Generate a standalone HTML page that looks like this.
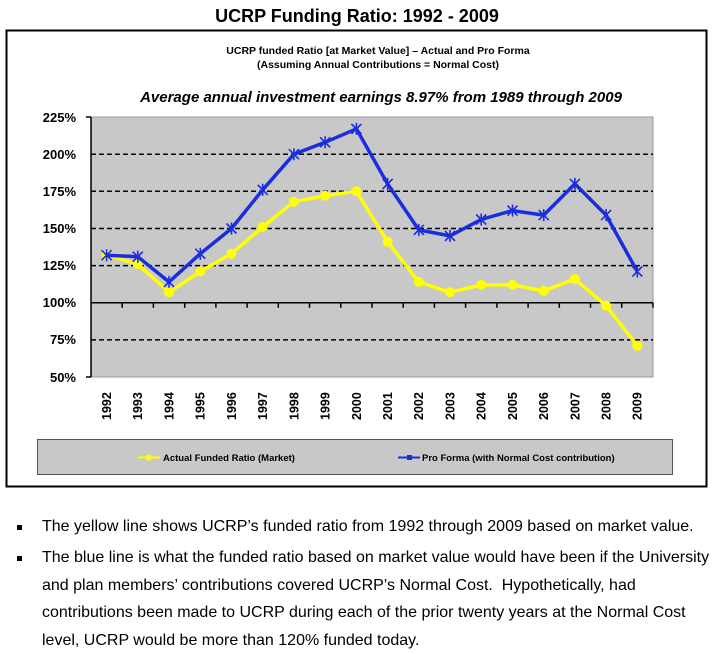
<!DOCTYPE html>
<html><head><meta charset="utf-8"><style>
body{margin:0;background:#fff;width:714px;height:654px;overflow:hidden;font-family:"Liberation Sans",sans-serif}
.b{position:absolute;left:42px;font-size:16px;color:#000;line-height:27.5px;white-space:nowrap}
.sq{position:absolute;left:17px;width:5px;height:5px;background:#000}
</style></head><body>
<svg width="714" height="490" style="position:absolute;left:0;top:0" font-family="Liberation Sans, sans-serif">
<text x="357" y="22" text-anchor="middle" font-size="18" font-weight="bold" font-family="Liberation Sans Narrow, Liberation Sans, sans-serif">UCRP Funding Ratio: 1992 - 2009</text>
<rect x="6.5" y="30.5" width="700" height="456" fill="#fff" stroke="#000" stroke-width="2"/>
<text x="378" y="54" text-anchor="middle" font-size="10.5" font-weight="bold">UCRP funded Ratio [at Market Value] – Actual and Pro Forma</text>
<text x="378" y="68" text-anchor="middle" font-size="10.5" font-weight="bold">(Assuming Annual Contributions = Normal Cost)</text>
<text x="381" y="102" text-anchor="middle" font-size="15" font-weight="bold" font-style="italic">Average annual investment earnings 8.97% from 1989 through 2009</text>
<rect x="91" y="117" width="562" height="260" fill="#c8c8c8" stroke="#999" stroke-width="1"/>
<g stroke="#000" stroke-width="1.5" stroke-dasharray="5,3">
<line x1="91" x2="653" y1="154.2" y2="154.2"/><line x1="91" x2="653" y1="191.3" y2="191.3"/>
<line x1="91" x2="653" y1="228.5" y2="228.5"/><line x1="91" x2="653" y1="265.6" y2="265.6"/>
<line x1="91" x2="653" y1="339.9" y2="339.9"/></g>
<line x1="91" x2="653" y1="302.8" y2="302.8" stroke="#000" stroke-width="1.5"/>
<g stroke="#000" stroke-width="1.5">
<line x1="91" x2="91" y1="117" y2="377"/>
<line x1="86" x2="91" y1="117" y2="117"/><line x1="86" x2="91" y1="377" y2="377"/>
<path d="M122.2 302.8v5M153.4 302.8v5M184.7 302.8v5M215.9 302.8v5M247.1 302.8v5M278.3 302.8v5M309.5 302.8v5M340.8 302.8v5M372 302.8v5M403.2 302.8v5M434.4 302.8v5M465.6 302.8v5M496.9 302.8v5M528.1 302.8v5M559.3 302.8v5M590.5 302.8v5M621.7 302.8v5M653 302.8v5"/>
</g>
<g font-size="13" font-weight="bold" text-anchor="end">
<text x="76" y="122">225%</text><text x="76" y="159">200%</text><text x="76" y="196">175%</text>
<text x="76" y="233">150%</text><text x="76" y="270">125%</text><text x="76" y="307">100%</text>
<text x="76" y="344">75%</text><text x="76" y="382">50%</text></g>
<polyline fill="none" stroke="#ffff00" stroke-width="3.5" points="106.6,255.2 137.8,264.1 169,292.3 200.3,271.5 231.5,253.7 262.7,227 293.9,201.7 325.1,195.8 356.4,191.3 387.6,241.8 418.8,281.9 450,292.3 481.2,284.9 512.5,284.9 543.7,290.9 574.9,279 606.1,305.7 637.3,345.8"/>
<g fill="#ffff00">
<circle cx="106.6" cy="255.2" r="5"/><circle cx="137.8" cy="264.1" r="5"/><circle cx="169" cy="292.3" r="5"/><circle cx="200.3" cy="271.5" r="5"/><circle cx="231.5" cy="253.7" r="5"/><circle cx="262.7" cy="227" r="5"/><circle cx="293.9" cy="201.7" r="5"/><circle cx="325.1" cy="195.8" r="5"/><circle cx="356.4" cy="191.3" r="5"/><circle cx="387.6" cy="241.8" r="5"/><circle cx="418.8" cy="281.9" r="5"/><circle cx="450" cy="292.3" r="5"/><circle cx="481.2" cy="284.9" r="5"/><circle cx="512.5" cy="284.9" r="5"/><circle cx="543.7" cy="290.9" r="5"/><circle cx="574.9" cy="279" r="5"/><circle cx="606.1" cy="305.7" r="5"/><circle cx="637.3" cy="345.8" r="5"/></g>
<polyline fill="none" stroke="#1a2ee0" stroke-width="3.5" points="106.6,255.2 137.8,256.7 169,281.9 200.3,253.7 231.5,228.5 262.7,189.8 293.9,154.2 325.1,142.3 356.4,128.9 387.6,183.9 418.8,229.9 450,235.9 481.2,219.5 512.5,210.6 543.7,215.1 574.9,183.9 606.1,215.1 637.3,271.5"/>
<g stroke="#1a2ee0" stroke-width="1.6">
<path d="M101.6,250.2l10,10m0,-10l-10,10M132.8,251.7l10,10m0,-10l-10,10M164,276.9l10,10m0,-10l-10,10M195.3,248.7l10,10m0,-10l-10,10M226.5,223.5l10,10m0,-10l-10,10M257.7,184.8l10,10m0,-10l-10,10M288.9,149.2l10,10m0,-10l-10,10M320.1,137.3l10,10m0,-10l-10,10M351.4,123.9l10,10m0,-10l-10,10M382.6,178.9l10,10m0,-10l-10,10M413.8,224.9l10,10m0,-10l-10,10M445,230.9l10,10m0,-10l-10,10M476.2,214.5l10,10m0,-10l-10,10M507.5,205.6l10,10m0,-10l-10,10M538.7,210.1l10,10m0,-10l-10,10M569.9,178.9l10,10m0,-10l-10,10M601.1,210.1l10,10m0,-10l-10,10M632.3,266.5l10,10m0,-10l-10,10"/>
<path d="M106.6,249.2v12M137.8,250.7v12M169,275.9v12M200.3,247.7v12M231.5,222.5v12M262.7,183.8v12M293.9,148.2v12M325.1,136.3v12M356.4,122.9v12M387.6,177.9v12M418.8,223.9v12M450,229.9v12M481.2,213.5v12M512.5,204.6v12M543.7,209.1v12M574.9,177.9v12M606.1,209.1v12M637.3,265.5v12"/>
</g>
<g font-size="12.5" font-weight="bold">
<text transform="translate(111,420) rotate(-90)">1992</text><text transform="translate(142.2,420) rotate(-90)">1993</text><text transform="translate(173.4,420) rotate(-90)">1994</text><text transform="translate(204.7,420) rotate(-90)">1995</text><text transform="translate(235.9,420) rotate(-90)">1996</text><text transform="translate(267.1,420) rotate(-90)">1997</text><text transform="translate(298.3,420) rotate(-90)">1998</text><text transform="translate(329.5,420) rotate(-90)">1999</text><text transform="translate(360.8,420) rotate(-90)">2000</text><text transform="translate(392,420) rotate(-90)">2001</text><text transform="translate(423.2,420) rotate(-90)">2002</text><text transform="translate(454.4,420) rotate(-90)">2003</text><text transform="translate(485.6,420) rotate(-90)">2004</text><text transform="translate(516.9,420) rotate(-90)">2005</text><text transform="translate(548.1,420) rotate(-90)">2006</text><text transform="translate(579.3,420) rotate(-90)">2007</text><text transform="translate(610.5,420) rotate(-90)">2008</text><text transform="translate(641.7,420) rotate(-90)">2009</text>
</g>
<rect x="37.5" y="439.5" width="635" height="35" fill="#c8c8c8" stroke="#555" stroke-width="1"/>
<line x1="138" x2="160" y1="457.5" y2="457.5" stroke="#ffff00" stroke-width="2"/><circle cx="149" cy="457.5" r="3" fill="#ffff00"/>
<text x="163" y="461" font-size="9.5" font-weight="bold">Actual Funded Ratio (Market)</text>
<line x1="398" x2="420" y1="457.5" y2="457.5" stroke="#1a2ee0" stroke-width="2"/><rect x="407" y="455" width="5" height="5" fill="#1a2ee0"/>
<text x="422" y="461" font-size="9.5" font-weight="bold">Pro Forma (with Normal Cost contribution)</text>
</svg>
<div class="sq" style="top:525px"></div>
<div class="b" style="top:513px">The yellow line shows UCRP’s funded ratio from 1992 through 2009 based on market value.</div>
<div class="sq" style="top:556px"></div>
<div class="b" style="top:544px">The blue line is what the funded ratio based on market value would have been if the University<br>and plan members’ contributions covered UCRP’s Normal Cost.&nbsp; Hypothetically, had<br>contributions been made to UCRP during each of the prior twenty years at the Normal Cost<br>level, UCRP would be more than 120% funded today.</div>
</body></html>
